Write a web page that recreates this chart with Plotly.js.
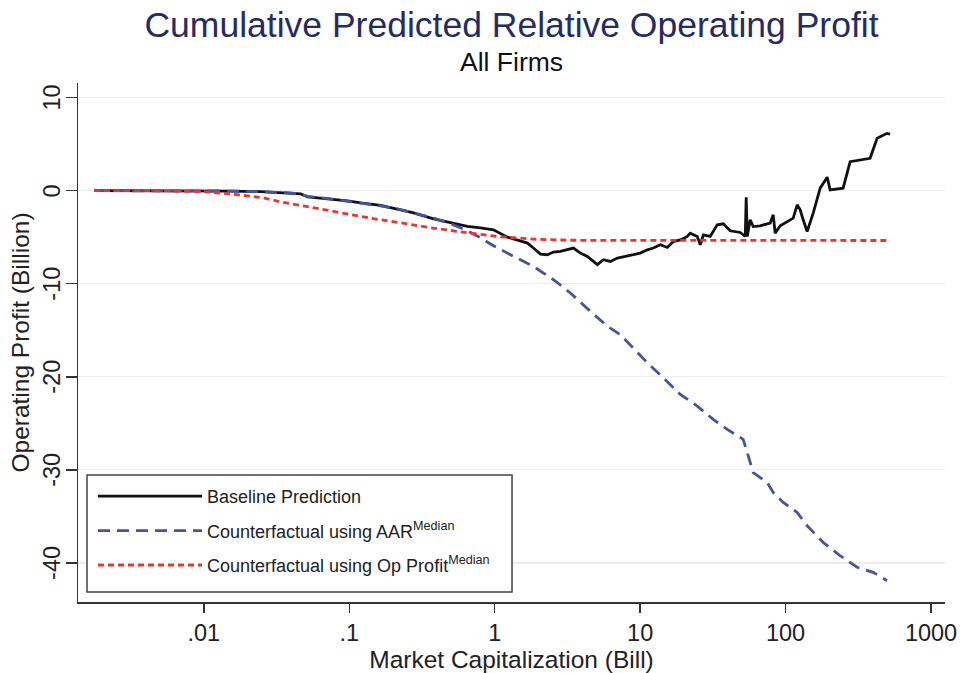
<!DOCTYPE html>
<html>
<head>
<meta charset="utf-8">
<script src="https://cdn.plot.ly/plotly-3.0.1.min.js"></script>
<style>
  body { margin: 0; background: #fff; }
  #chart { width: 961px; height: 673px; }
</style>
</head>
<body>
<div id="chart"></div>
<script>
// market cap (billions) and cumulative relative operating profit (billions)
let capBaseline = [0.00176, 0.00433, 0.00953, 0.0153, 0.0246, 0.0396, 0.0464, 0.0518, 0.0745, 0.0975,
    0.1198, 0.1643, 0.2254, 0.2769, 0.380, 0.474, 0.650, 0.799, 0.981, 1.224,
    1.504, 1.68, 1.847, 2.064, 2.305, 2.534, 2.830, 3.162, 3.477, 3.885,
    4.339, 4.771, 5.08, 5.588, 6.242, 6.972, 8.17, 8.98, 10.03, 11.21,
    12.32, 13.76, 15.38, 16.9, 18.89, 21.1, 22.1, 24.7, 25.9, 27.2,
    30.3, 33.9, 37.3, 41.6, 48.8, 52.8, 53.6, 54.5, 57.1, 59.9,
    66.9, 78.4, 82.2, 84.8, 91.8, 112.8, 120.1, 126.0, 132.1, 140.7,
    154.8, 172.9, 193.1, 202.4, 248.6, 277.8, 381.1, 425.8, 498.7, 523.0]
let profitBaseline = [0, 0, -0.02, -0.05, -0.11, -0.25, -0.35, -0.68, -0.89, -1.10,
    -1.32, -1.59, -2.07, -2.39, -3.03, -3.35, -3.84, -4.0, -4.21, -5.0,
    -5.4, -5.64, -6.17, -6.82, -6.89, -6.60, -6.54, -6.36, -6.17, -6.71,
    -7.07, -7.61, -7.96, -7.43, -7.61, -7.25, -7.07, -6.89, -6.71, -6.36,
    -6.17, -5.82, -6.11, -5.47, -5.3, -4.93, -4.57, -4.93, -5.82, -4.75,
    -4.93, -3.68, -3.57, -4.32, -4.50, -4.93, -0.71, -4.93, -3.14, -3.86,
    -3.78, -3.49, -2.60, -4.57, -3.78, -2.96, -1.53, -2.07, -3.14, -4.39,
    -2.42, 0.26, 1.44, 0.08, 0.26, 3.11, 3.47, 5.62, 6.15, 6.08]

let capAar = [0.00176, 0.00433, 0.00953, 0.0153, 0.0246, 0.0396, 0.0464, 0.0518, 0.0745, 0.0975,
    0.1198, 0.1643, 0.2254, 0.2769, 0.380, 0.521, 0.650, 0.799, 0.981, 1.284,
    1.847, 2.534, 3.316, 4.550, 5.95, 7.31, 8.98, 11.21, 14.43, 18.89,
    24.7, 31.8, 39.7, 51.1, 54.5, 59.9, 74.7, 82.2, 96.3, 120.1,
    140.7, 181.2, 237.1, 310.3, 399.6, 498.7]
let profitAar = [0, 0, -0.02, -0.05, -0.11, -0.25, -0.40, -0.62, -0.89, -1.12,
    -1.35, -1.65, -2.05, -2.40, -2.95, -3.68, -4.32, -5.07, -5.93, -6.89,
    -8.15, -9.57, -11.0, -12.97, -14.58, -15.47, -16.89, -18.50, -20.11, -21.90,
    -23.15, -24.58, -25.65, -26.72, -28.15, -30.29, -31.36, -32.43, -33.50, -34.58,
    -36.01, -37.79, -39.23, -40.47, -41.01, -41.91]

let capOpProfit = [0.00176, 0.00433, 0.00953, 0.0153, 0.0258, 0.0338, 0.0464, 0.0745, 0.0975, 0.1403,
    0.2254, 0.362, 0.650, 1.096, 1.847, 3.162, 5.33, 25.9, 126.0, 498.7]
let profitOpProfit = [0, 0, -0.09, -0.35, -0.79, -1.21, -1.59, -2.17, -2.55, -2.97,
    -3.46, -3.99, -4.53, -4.96, -5.22, -5.33, -5.35, -5.35, -5.36, -5.36]

let seriesNames = ["Baseline Prediction",
    "Counterfactual using AAR<sup>Median</sup>",
    "Counterfactual using Op Profit<sup>Median</sup>"]

let xTickVals = [0.01, 0.1, 1, 10, 100, 1000]
let xTickText = [".01", ".1", "1", "10", "100", "1000"]
let yTickVals = [-40, -30, -20, -10, 0, 10]
let yTickText = ["-40", "-30", "-20", "-10", "0", "10"]

let font = "Liberation Sans, Arial, Helvetica, sans-serif"

let traces = [
    {
        x: capBaseline, y: profitBaseline, name: seriesNames[0],
        mode: "lines", type: "scatter", legendgroup: "a",
        line: { color: "#111111", width: 2.8 }
    },
    {
        x: capAar, y: profitAar, name: seriesNames[1],
        mode: "lines", type: "scatter", legendgroup: "b",
        line: { color: "#4653a5", width: 2.8, dash: "12px,7px" }
    },
    {
        x: capOpProfit, y: profitOpProfit, name: seriesNames[2],
        mode: "lines", type: "scatter", legendgroup: "c",
        line: { color: "#e8372c", width: 2.8, dash: "6px,4px" }
    }
]

// Stata writes the y labels turned on their side
let annotations = [{
    text: "All Firms", showarrow: false,
    xref: "paper", yref: "paper", x: 0.5, y: 1.0405,
    xanchor: "center", yanchor: "middle",
    font: { family: font, size: 26.5, color: "#111111" }
}]
for (let i = 0; i < yTickVals.length; i++) {
    annotations.push({
        text: yTickText[i], showarrow: false, textangle: -90,
        xref: "paper", yref: "y", x: -0.030, y: yTickVals[i],
        xanchor: "center", yanchor: "middle",
        font: { family: font, size: 23.5, color: "#222222" }
    })
}

let layout = {
    width: 961,
    height: 673,
    margin: { l: 78, r: 16, t: 83, b: 71 },
    paper_bgcolor: "#ffffff",
    plot_bgcolor: "#ffffff",
    font: { family: font, color: "#222222" },
    title: {
        text: "Cumulative Predicted Relative Operating Profit",
        font: { family: font, size: 35.5, color: "#272b63" },
        x: 0.5, xref: "paper", xanchor: "center",
        y: 0.963, yref: "container", yanchor: "middle"
    },
    annotations: annotations,
    xaxis: {
        type: "log",
        range: [-2.865, 3.096],
        tickvals: xTickVals,
        ticktext: xTickText,
        ticks: "outside", ticklen: 9, tickwidth: 1.5, tickcolor: "#333333",
        showline: true, linecolor: "#333333", linewidth: 1.5,
        showgrid: false, zeroline: false,
        tickfont: { size: 23.5, color: "#222222" },
        title: { text: "Market Capitalization (Bill)", font: { size: 24.5, color: "#222222" }, standoff: 0 }
    },
    yaxis: {
        range: [-44.2, 11.56],
        tickvals: yTickVals,
        showticklabels: false,
        ticks: "outside", ticklen: 11, tickwidth: 1.5, tickcolor: "#333333",
        showline: true, linecolor: "#333333", linewidth: 1.5,
        showgrid: true, gridcolor: "#e9eef2", gridwidth: 1.2,
        zeroline: false,
        title: { text: "Operating Profit (Billion)", font: { size: 24.5, color: "#222222" }, standoff: 29 }
    },
    // legend frame drawn as a white box like the Stata one
    shapes: [{
        type: "rect", xref: "paper", yref: "paper", layer: "above",
        x0: 0.0104, x1: 0.5006, y0: 0.0193, y1: 0.2447,
        fillcolor: "#ffffff", line: { color: "#444444", width: 1.5 }
    }],
    showlegend: true,
    legend: {
        x: 0.0173, y: 0.2389, xanchor: "left", yanchor: "top",
        bgcolor: "rgba(0,0,0,0)", borderwidth: 0,
        itemwidth: 104, tracegroupgap: 8,
        font: { family: font, size: 18, color: "#222222" }
    }
}

Plotly.newPlot("chart", traces, layout, { displayModeBar: false, staticPlot: true })
</script>
</body>
</html>
